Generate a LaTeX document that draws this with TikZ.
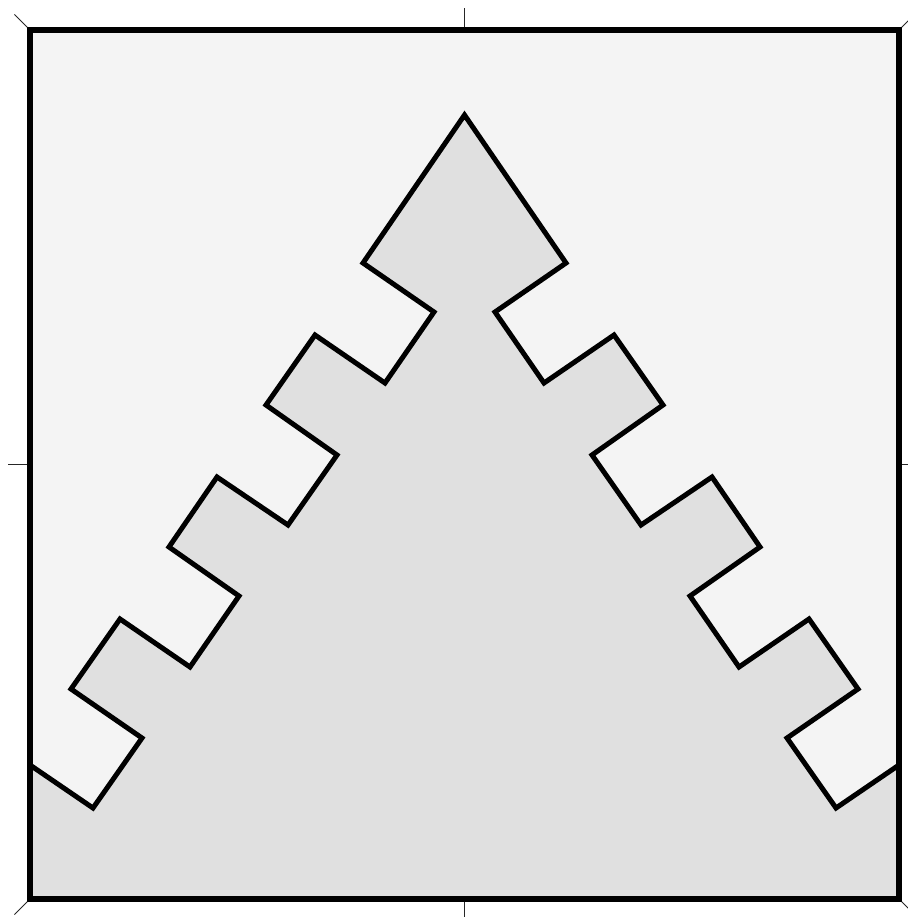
\documentclass[tikz,border=0pt]{standalone}
\definecolor{paper}{HTML}{F4F4F4}
\definecolor{tile}{HTML}{E0E0E0}
\begin{document}
\begin{tikzpicture}[x=1pt, y=-1pt,
    frame/.style={line width=6pt, draw=black},
    edge/.style={line width=5pt, draw=black, line join=miter, fill=tile},
    tick/.style={line width=1pt, draw=black!85}
]
\useasboundingbox (0,0) rectangle (907,917);

% Background
\fill[paper] (30,30) rectangle (899,899);

% Ticks
\foreach \x/\y/\dx/\dy in {464.5/30/0/-22, 30/464.5/-22/0, 464.5/899/0/22, 899/464.5/22/0,
    30/30/-15.6/-15.6, 899/30/15.6/-15.6, 30/899/-15.6/15.6, 899/899/15.6/15.6} {
    \draw[tick] (\x,\y) -- ++(\dx,\dy);
}

% Stepped triangle
\path[edge] (30,765) -- (93,808) -- (142,738) -- (71,689) -- (120,619) -- (190,667)
    -- (239,596) -- (169,547) -- (217,477) -- (288,525) -- (337,455) -- (266,405)
    -- (315,335) -- (385,383) -- (434,312) -- (363,263) -- (464.5,115)
    -- (566,263) -- (495,312) -- (544,383) -- (614,335) -- (663,405) -- (592,455)
    -- (641,525) -- (712,477) -- (760,547) -- (690,596) -- (739,667) -- (809,619)
    -- (858,689) -- (787,738) -- (836,808) -- (899,765) -- (899,899) -- (30,899) -- cycle;

% Frame
\draw[frame] (30,30) rectangle (899,899);
\end{tikzpicture}
\end{document}
